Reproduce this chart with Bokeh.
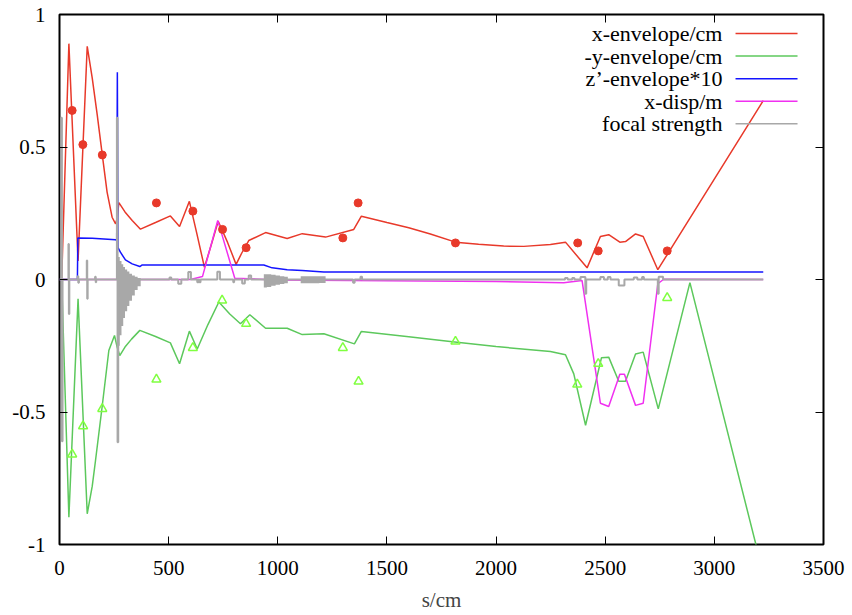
from bokeh.plotting import figure
from bokeh.models import Range1d, LinearAxis, FixedTicker
from bokeh.core.properties import value
from bokeh.embed import file_html
from bokeh.resources import INLINE

# ---------------- data ----------------
x_ticks = [0, 500, 1000, 1500, 2000, 2500, 3000, 3500]
x_tick_labels = ["0", "500", "1000", "1500", "2000", "2500", "3000", "3500"]
y_ticks = [-1, -0.5, 0, 0.5, 1]
y_tick_labels = ["-1", "-0.5", "0", "0.5", "1"]

series_names = ["x-envelope/cm", "-y-envelope/cm", "z\u2019-envelope*10", "x-disp/m", "focal strength"]

red_s = [10, 43, 85, 127, 150, 173, 196, 218, 241, 257, 264, 272, 300, 333, 371, 440, 508, 550, 595,
         630, 664, 695, 727, 770, 809, 835, 867, 944, 1043, 1112, 1219, 1348, 1383, 1500, 1600, 1699,
         1814, 1920, 2035, 2127, 2249, 2318, 2417, 2478, 2516, 2567, 2593, 2639, 2674, 2741, 3224]
red_v = [0.0, 0.89, 0.07, 0.88, 0.76, 0.62, 0.47, 0.33, 0.235, 0.21, 0.23, 0.29, 0.255, 0.223, 0.19,
         0.215, 0.24, 0.20, 0.295, 0.17, 0.046, 0.13, 0.22, 0.14, 0.057, 0.10, 0.147, 0.177, 0.155,
         0.173, 0.16, 0.189, 0.239, 0.215, 0.195, 0.172, 0.141, 0.133, 0.126, 0.125, 0.132, 0.141,
         0.044, 0.162, 0.169, 0.141, 0.143, 0.172, 0.162, 0.037, 0.675]

green_s = [10, 43, 85, 127, 150, 165, 195, 226, 252, 264, 276, 300, 330, 368, 440, 508, 550, 595, 631,
           680, 730, 780, 829, 872, 944, 1043, 1112, 1211, 1351, 1383, 1600, 1800, 2000, 2249, 2318,
           2356, 2410, 2483, 2516, 2562, 2593, 2639, 2674, 2743, 2888, 3224]
green_v = [0.0, -0.897, -0.073, -0.884, -0.78, -0.683, -0.482, -0.268, -0.211, -0.255, -0.287, -0.255,
           -0.225, -0.192, -0.215, -0.239, -0.318, -0.195, -0.262, -0.17, -0.085, -0.13, -0.167, -0.133,
           -0.184, -0.184, -0.208, -0.205, -0.243, -0.196, -0.216, -0.235, -0.253, -0.272, -0.284,
           -0.356, -0.55, -0.295, -0.293, -0.384, -0.384, -0.281, -0.274, -0.488, -0.012, -1.11]

blue_s = [0, 82, 84, 150, 257, 262, 265, 268, 279, 302, 333, 368, 379, 936, 974, 1043, 1112, 1211, 3224]
blue_v = [0.0, 0.0, 0.157, 0.156, 0.15, 0.148, 0.782, 0.12, 0.103, 0.074, 0.059, 0.049, 0.055, 0.055,
          0.044, 0.037, 0.034, 0.028, 0.028]

mag_s = [0, 600, 655, 725, 803, 1000, 1500, 2000, 2310, 2394, 2478, 2516, 2567, 2588, 2639, 2674,
         2741, 2768, 3224]
mag_v = [0.0, 0.0, 0.011, 0.223, 0.005, -0.002, -0.005, -0.008, -0.012, -0.004, -0.467, -0.479,
         -0.358, -0.358, -0.475, -0.467, -0.016, 0.001, 0.0]

focal_s = [0, 8, 8, 11, 11, 14, 14,
           41, 41, 43, 43, 45, 45,
           83, 83, 86, 86, 89, 89,
           125, 125, 127, 127, 129, 129,
           163, 163, 166, 166, 168, 168,
           263, 263, 266, 266, 269, 269,
           504, 504, 512, 512,
           544, 544, 558, 558,
           590, 590, 602, 602,
           631, 631, 637, 637, 641, 641, 646, 646,
           723, 723, 735, 735,
           796, 796, 800, 800,
           837, 837, 849, 849,
           867, 867, 878, 878,
           1345, 1345, 1352, 1352,
           1379, 1379, 1386, 1386,
           2316, 2316, 2328, 2328,
           2349, 2349, 2359, 2359,
           2387, 2387, 2409, 2409, 2413, 2413,
           2478, 2478, 2494, 2494,
           2512, 2512, 2524, 2524,
           2562, 2562, 2588, 2588,
           2631, 2631, 2647, 2647,
           2669, 2669, 2677, 2677,
           2741, 2741, 2745, 2745, 2765, 2765,
           3224]
focal_v = [0, 0, 0.61, 0.61, -0.61, -0.61, 0,
           0, 0.134, 0.134, -0.13, -0.13, 0,
           0, 0.012, 0.012, -0.012, -0.012, 0,
           0, 0.072, 0.072, -0.073, -0.073, 0,
           0, 0.01, 0.01, -0.01, -0.01, 0,
           0, 0.61, 0.61, -0.614, -0.614, 0,
           0, 0.008, 0.008, 0,
           0, -0.016, -0.016, 0,
           0, 0.028, 0.028, 0,
           0, -0.01, -0.01, 0, 0, -0.01, -0.01, 0,
           0, 0.029, 0.029, 0,
           0, -0.01, -0.01, 0,
           0, -0.015, -0.015, 0,
           0, 0.015, 0.015, 0,
           0, -0.012, -0.012, 0,
           0, 0.01, 0.01, 0,
           0, 0.006, 0.006, 0,
           0, 0.006, 0.006, 0,
           0, 0.009, 0.009, -0.054, -0.054, 0,
           0, 0.009, 0.009, 0,
           0, 0.009, 0.009, 0,
           0, -0.023, -0.023, 0,
           0, 0.008, 0.008, 0,
           0, 0.009, 0.009, 0,
           0, -0.054, -0.054, 0.01, 0.01, 0,
           0]

# dense focusing-channel sections of the focal strength (upper / lower envelope)
chanA_s = [268, 276, 284, 292, 300, 310, 320, 332, 345, 358, 372]
chanA_hi = [0.085, 0.07, 0.058, 0.047, 0.038, 0.03, 0.022, 0.015, 0.01, 0.006, 0.003]
chanA_lo = [-0.25, -0.21, -0.175, -0.145, -0.12, -0.1, -0.08, -0.06, -0.04, -0.025, -0.012]
chanB_s = [936, 950, 970, 990, 1010, 1030, 1046]
chanB_hi = [0.02, 0.02, 0.018, 0.015, 0.012, 0.01, 0.009]
chanB_lo = [-0.03, -0.028, -0.024, -0.02, -0.017, -0.014, -0.012]
chanC_s = [1105, 1130, 1160, 1190, 1219]
chanC_hi = [0.012, 0.012, 0.012, 0.012, 0.011]
chanC_lo = [-0.014, -0.014, -0.014, -0.013, -0.013]

dot_s = [58, 107, 196, 444, 611, 747, 855, 1298, 1368, 1814, 2374, 2468, 2784]
dot_v = [0.638, 0.509, 0.47, 0.289, 0.258, 0.189, 0.12, 0.157, 0.289, 0.138, 0.138, 0.108, 0.108]

tri_s = [58, 108, 196, 444, 611, 745, 855, 1298, 1370, 1814, 2372, 2468, 2784]
tri_v = [-0.66, -0.553, -0.488, -0.377, -0.258, -0.079, -0.167, -0.258, -0.385, -0.234, -0.396,
         -0.318, -0.069]

# ---------------- style ----------------
RED = "#e8392a"
GREEN = "#5cc85c"
BLUE = "#1414ff"
MAGENTA = "#f030f0"
GRAY = "#a8a8a8"
TRI = "#80ff40"
FONT = "'Liberation Serif', 'DejaVu Serif', serif"
FS = "21px"
LEG_FS = "22px"

p = figure(width=852, height=615, x_range=Range1d(0, 3500), y_range=Range1d(-1, 1),
           output_backend="svg", toolbar_location=None,
           min_border_left=59, min_border_right=29, min_border_top=14, min_border_bottom=71)
p.xgrid.visible = False
p.ygrid.visible = False
p.outline_line_color = "black"
p.outline_line_width = 2
p.outline_line_alpha = 1
p.background_fill_color = "white"
p.border_fill_color = "white"


def style_axis(ax, ticks, labels=None, show=True, standoff=10):
    ax.ticker = FixedTicker(ticks=ticks)
    ax.axis_line_color = None
    ax.major_tick_in = 8
    ax.major_tick_out = 0
    ax.major_tick_line_color = "black"
    ax.major_tick_line_width = 1
    ax.minor_tick_line_color = None
    if show:
        ax.major_label_overrides = {t: l for t, l in zip(ticks, labels)}
        ax.major_label_text_font = FONT
        ax.major_label_text_font_size = FS
        ax.major_label_text_color = "black"
        ax.major_label_standoff = standoff
    else:
        ax.major_label_text_font_size = "0px"
        ax.major_label_text_alpha = 0
        ax.major_label_standoff = 0


style_axis(p.xaxis[0], x_ticks, x_tick_labels, True, 16)
style_axis(p.yaxis[0], y_ticks, y_tick_labels, True, 14)
p.xaxis[0].axis_label = "s/cm"
p.xaxis[0].axis_label_text_font = FONT
p.xaxis[0].axis_label_text_font_size = FS
p.xaxis[0].axis_label_text_font_style = "normal"
p.xaxis[0].axis_label_standoff = 10

top = LinearAxis()
style_axis(top, x_ticks, show=False)
p.add_layout(top, "above")
right = LinearAxis()
style_axis(right, y_ticks, show=False)
p.add_layout(right, "right")

# ---------------- glyphs ----------------
p.line(red_s, red_v, line_color=RED, line_width=1.5)
p.line(green_s, green_v, line_color=GREEN, line_width=1.5)
p.line(blue_s, blue_v, line_color=BLUE, line_width=1.5)
p.line(mag_s, mag_v, line_color=MAGENTA, line_width=1.5)

for cs, hi, lo in ((chanA_s, chanA_hi, chanA_lo), (chanB_s, chanB_hi, chanB_lo), (chanC_s, chanC_hi, chanC_lo)):
    p.varea_step(x=cs, y1=lo, y2=hi, step_mode="after", fill_color=GRAY, fill_alpha=1)
p.line(focal_s, focal_v, line_color=GRAY, line_width=2)

p.scatter(dot_s, dot_v, marker="circle", size=8, fill_color=RED, line_color=RED)
p.scatter(tri_s, tri_v, marker="triangle", size=9, fill_color=None, line_color=TRI, line_width=1.5)

# ---------------- legend (text left, sample right, as in gnuplot) ----------------
leg_rows = [0.928, 0.843, 0.758, 0.673, 0.588]
leg_text_x = 3037
leg_line_x0 = 3097
leg_line_x1 = 3381
leg_colors = [RED, GREEN, BLUE, MAGENTA, GRAY]
p.segment(x0=[leg_line_x0] * 5, y0=leg_rows, x1=[leg_line_x1] * 5, y1=leg_rows,
          line_color=leg_colors, line_width=1.5)
p.text(x=[leg_text_x] * 5, y=leg_rows, text=series_names, text_align="right",
       text_baseline="middle", text_font=value(FONT), text_font_size=LEG_FS, text_color="black")

open("out.html", "w").write(file_html(p, INLINE))
